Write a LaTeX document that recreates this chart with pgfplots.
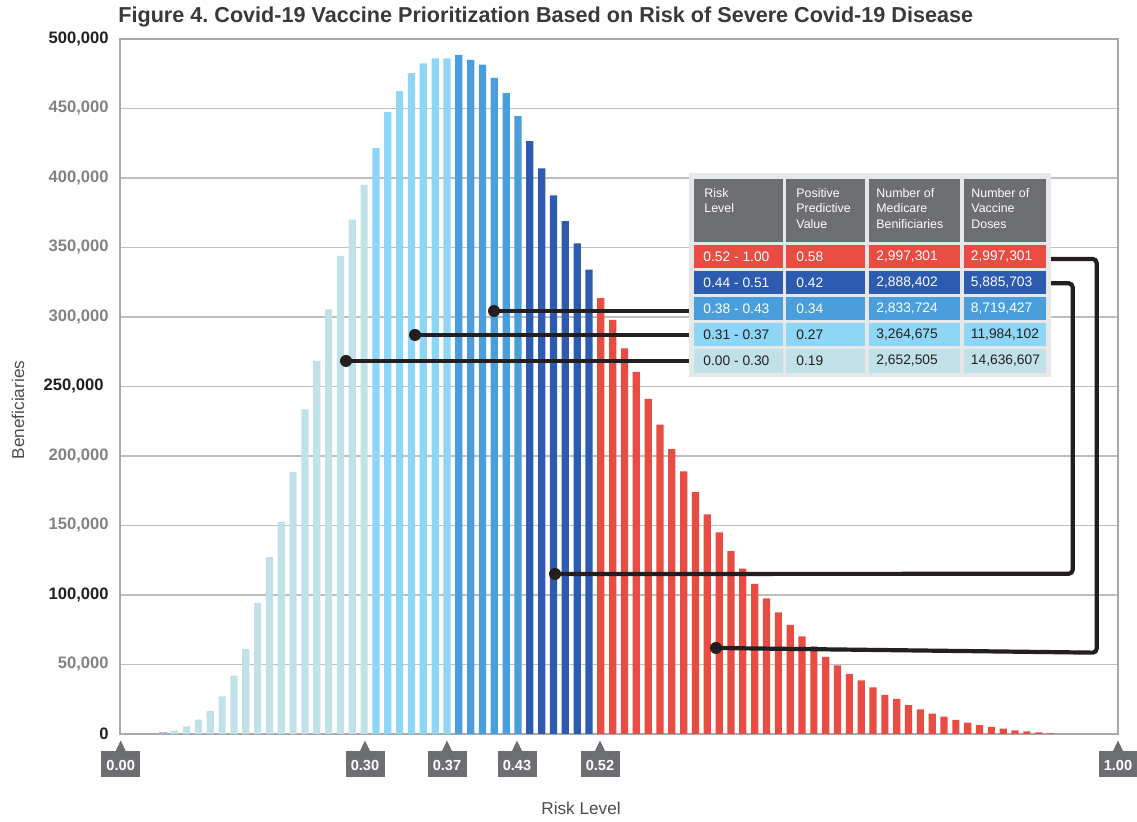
\documentclass[border=0pt]{standalone}
\usepackage{fontspec}
\setmainfont{Liberation Sans}
\usepackage{pgfplots}
\pgfplotsset{compat=1.18}
\frenchspacing
\definecolor{teal1}{HTML}{C1E1E8}
\definecolor{lblue}{HTML}{8DD6F6}
\definecolor{mblue}{HTML}{4A9EDB}
\definecolor{dblue}{HTML}{2D5BB0}
\definecolor{cred}{HTML}{E84C43}
\definecolor{lav}{HTML}{A9B7DF}
\definecolor{hgray}{HTML}{6D6E71}
\definecolor{tbg}{HTML}{E6E7E8}
\definecolor{gridc}{HTML}{BCBEC0}
\definecolor{framec}{HTML}{A7A9AC}
\definecolor{ink}{HTML}{231F20}
\definecolor{tgray}{HTML}{808285}
\definecolor{titlec}{HTML}{3A3839}
\newcommand\mk[2]{%
  \fill[hgray] ({#1-5.5},752) -- (#1,740.5) -- ({#1+5.5},752) -- cycle;
  \fill[hgray] ({#1-19.5},751.5) rectangle ({#1+19.5},777);
  \node[white,inner sep=0pt,font=\fontsize{7.3}{8}\selectfont\bfseries] at (#1,765) {#2};}
\begin{document}
\begin{tikzpicture}[px/.style={x=0.5pt,y=-0.5pt,shift={(-120,-734)}}]
\path[use as bounding box] (-60pt,-44pt) rectangle (508.5pt,367pt);
\begin{axis}[at={(0,0)}, anchor=south west, scale only axis,
  width=499pt, height=347.5pt,
  xmin=-3.63, xmax=80.7, ymin=0, ymax=500000,
  axis line style={framec, line width=1pt},
  xtick=\empty,
  ytick={0,50000,100000,150000,200000,250000,300000,350000,400000,450000,500000},
  yticklabels={{\textcolor{ink}{0}},{\textcolor{tgray}{50,000}},{\textcolor{ink}{100,000}},{\textcolor{tgray}{150,000}},{\textcolor{tgray}{200,000}},{\textcolor{ink}{250,000}\hspace*{2.5pt}},{\textcolor{tgray}{300,000}},{\textcolor{tgray}{350,000}},{\textcolor{tgray}{400,000}},{\textcolor{tgray}{450,000}},{\textcolor{ink}{500,000}}},
  ymajorgrids, grid style={gridc, line width=0.75pt},
  major tick length=0pt,
  yticklabel style={inner sep=0pt, xshift=-5.5pt, font=\fontsize{8.3}{10}\selectfont\bfseries},
  scaled y ticks=false, clip=false]
\addplot[ybar, bar width=3.6pt, fill=lav, draw=none] coordinates {(0,1500)};
\addplot[ybar, bar width=3.6pt, fill=teal1, draw=none] coordinates {
(1,2400) (2,5400) (3,10300) (4,16700) (5,27000) (6,41900) (7,61300) (8,94400)
(9,127500) (10,152500) (11,188500) (12,233500) (13,268500) (14,305500) (15,344000)
(16,370000) (17,395000)};
\addplot[ybar, bar width=3.6pt, fill=lblue, draw=none] coordinates {
(18,421500) (19,447500) (20,462500) (21,475500) (22,482500) (23,486000) (24,486000)};
\addplot[ybar, bar width=3.6pt, fill=mblue, draw=none] coordinates {
(25,488500) (26,485000) (27,481500) (28,472000) (29,461000) (30,444500)};
\addplot[ybar, bar width=3.6pt, fill=dblue, draw=none] coordinates {
(31,426500) (32,407000) (33,387500) (34,369000) (35,353000) (36,334000)};
\addplot[ybar, bar width=3.6pt, fill=cred, draw=none] coordinates {
(37,313500) (38,298000) (39,277500) (40,260500) (41,241000) (42,222500) (43,205000)
(44,189000) (45,174000) (46,158000) (47,145000) (48,131500) (49,119000) (50,108000)
(51,97500) (52,87400) (53,78500) (54,70200) (55,63000) (56,55400) (57,49300)
(58,43300) (59,38600) (60,33600) (61,28200) (62,25200) (63,20800) (64,17700)
(65,14600) (66,12500) (67,10100) (68,8100) (69,6400) (70,5200) (71,3800)
(72,2600) (73,1900) (74,1100) (75,400)};
\end{axis}
\begin{scope}[px]
% title and labels
\node[anchor=west,inner sep=0pt,text=titlec,font=\fontsize{10.8}{13}\selectfont\bfseries] at (118,17)
  {Figure 4. Covid-19 Vaccine Prioritization Based on Risk of Severe Covid-19 Disease};
\node[rotate=90,inner sep=0pt,text=ink!80,font=\fontsize{8.6}{10}\selectfont] at (18,410) {Beneficiaries};
\node[inner sep=0pt,text=ink!80,font=\fontsize{8.6}{10}\selectfont] at (581,808) {Risk Level};
% markers
\mk{120.7}{0.00}
\mk{365}{0.30}
\mk{447}{0.37}
\mk{517}{0.43}
\mk{600}{0.52}
\mk{1118}{1.00}
% connectors
\begin{scope}[ink, line width=2.1pt, rounded corners=2pt]
\draw (494,311) -- (692,311);
\draw (415,335) -- (692,335);
\draw (346,361) -- (692,361);
\draw (1046,259) -- (1096.7,259) -- (1096.7,652.7) -- (716,648);
\draw (1046,283.3) -- (1072.7,283.3) -- (1072.7,573.8) -- (555,574);
\end{scope}
\foreach \a/\b in {494/311, 415/335, 346/361, 716/648, 555/574}
  \fill[ink] (\a,\b) circle[radius=3pt];
% table
\fill[tbg] (689,173) rectangle (1051,377);
\foreach \l/\r in {694/782.7, 786/865, 869/960, 964/1046}{
  \fill[hgray] (\l,179) rectangle (\r,241.7);
  \fill[cred]  (\l,245) rectangle (\r,267.7);
  \fill[dblue] (\l,271) rectangle (\r,294);
  \fill[mblue] (\l,297) rectangle (\r,320);
  \fill[lblue] (\l,323.3) rectangle (\r,346);
  \fill[teal1] (\l,349.3) rectangle (\r,372.7);
}
\begin{scope}[every node/.style={anchor=north west,inner sep=0pt,text=white,align=left,
   font=\fontsize{6.2}{7.75}\selectfont}]
\node at (704,188) {Risk\\Level};
\node at (796,188) {Positive\\Predictive\\Value};
\node at (876,188) {Number of\\Medicare\\Benificiaries};
\node at (971,188) {Number of\\Vaccine\\Doses};
\end{scope}
\begin{scope}[every node/.style={anchor=west,inner sep=0pt,font=\fontsize{6.9}{8}\selectfont}]
\foreach \y/\c/\a/\b/\cc/\d in {256.3/white/0.52 - 1.00/0.58/2{,}997{,}301/2{,}997{,}301,
  282.5/white/0.44 - 0.51/0.42/2{,}888{,}402/5{,}885{,}703,
  308.5/white/0.38 - 0.43/0.34/2{,}833{,}724/8{,}719{,}427,
  334.6/ink/0.31 - 0.37/0.27/3{,}264{,}675/11{,}984{,}102,
  361/ink/0.00 - 0.30/0.19/2{,}652{,}505/14{,}636{,}607}{
  \node[text=\c] at (703,\y) {\a};
  \node[text=\c] at (796,\y) {\b};
  \node[text=\c] at (876,\y) {\cc};
  \node[text=\c] at (970.5,\y) {\d};
}
\end{scope}
\end{scope}
\end{tikzpicture}
\end{document}
